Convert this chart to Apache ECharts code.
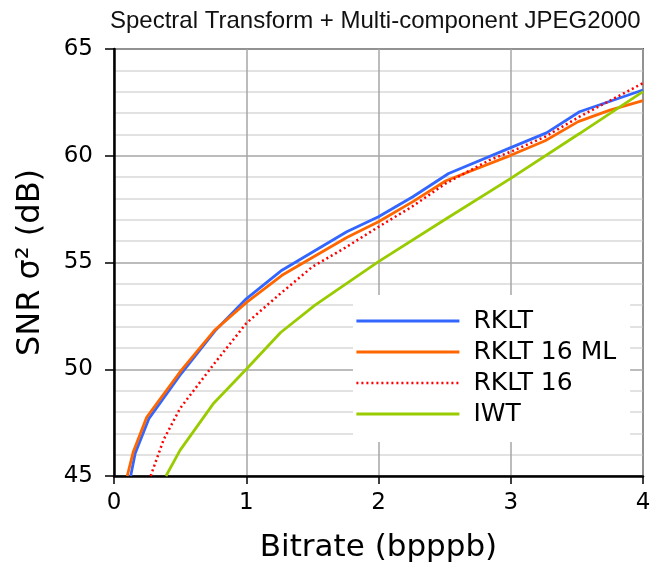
<!DOCTYPE html>
<html lang="en">
<head>
    <meta charset="UTF-8">
    <title>Spectral Transform + Multi-component JPEG2000</title>
</head>
<body style="margin:0">
<div class="main" style="width: 652px;height: 563px"></div>
</body>
<script src="https://cdn.jsdelivr.net/npm/echarts@6/dist/echarts.min.js"></script>
<script>
    // [bitrate, SNR]
    var rklt = [[0.126, 45.0], [0.16, 46.06], [0.265, 47.7], [0.51, 49.81], [0.77, 51.84], [1.0, 53.3],
        [1.27, 54.64], [1.76, 56.44], [2.0, 57.14], [2.26, 58.08], [2.53, 59.17], [3.0, 60.38],
        [3.27, 61.07], [3.52, 62.06], [4.0, 63.08]];
    var rklt16ml = [[0.10, 45.0], [0.146, 46.14], [0.247, 47.75], [0.51, 49.96], [0.76, 51.82], [1.0, 53.12],
        [1.27, 54.4], [1.76, 56.17], [2.0, 56.91], [2.26, 57.85], [2.51, 58.83], [3.0, 60.02],
        [3.26, 60.7], [3.51, 61.6], [3.75, 62.14], [4.0, 62.58]];
    var rklt16 = [[0.277, 45.0], [0.375, 46.7], [0.5, 48.17], [0.75, 50.2], [1.0, 52.15], [1.25, 53.5],
        [1.5, 54.8], [1.75, 55.7], [2.0, 56.67], [2.25, 57.6], [2.51, 58.71], [2.84, 59.8],
        [3.0, 60.19], [3.26, 60.89], [3.52, 61.83], [4.0, 63.4]];
    var iwt = [[0.393, 45.0], [0.499, 46.2], [0.75, 48.38], [1.0, 50.0], [1.26, 51.72], [1.52, 53.0],
        [2.0, 55.04], [2.5, 57.0], [3.0, 58.94], [3.52, 61.04], [4.0, 63.0]];

    var seriesNames = ['RKLT', 'RKLT 16 ML', 'RKLT 16', 'IWT'];
    var seriesData = [rklt, rklt16ml, rklt16, iwt];
    var seriesColors = ['#3366ff', '#ff6600', '#ff0000', '#99cc00'];
    var seriesDash = ['solid', 'solid', [2, 3], 'solid'];

    var xTicks = {min: 0, max: 4, interval: 1};
    var yTicks = {min: 45, max: 65, interval: 5};

    var main = document.querySelector(".main");
    var mainEcharts = echarts.init(main);

    var font = 'DejaVu Sans';

    var option = {
        animation: false,
        backgroundColor: '#fff',
        title: {
            text: 'Spectral Transform + Multi-component JPEG2000',
            left: 105,
            top: 4,
            textStyle: {fontFamily: 'Liberation Sans', fontSize: 24, fontWeight: 'normal', color: '#111'}
        },
        grid: {
            left: 114, right: 9, top: 49, bottom: 87,
            outerBoundsMode: 'none',
            show: true, borderColor: '#5a5a5a', borderWidth: 2
        },
        legend: {
            data: seriesNames,
            orient: 'vertical',
            left: 353,
            top: 295,
            padding: [13, 14, 15, 2],
            backgroundColor: '#fff',
            itemWidth: 103,
            itemHeight: 2,
            itemGap: 5,
            // hide the symbol ECharts puts in the middle of line icons
            itemStyle: {opacity: 0},
            lineStyle: {width: 'inherit'},
            textStyle: {fontFamily: font, fontSize: 25, color: '#000', lineHeight: 26, padding: [0, 0, 0, 9]}
        },
        xAxis: {
            type: 'value',
            min: xTicks.min, max: xTicks.max, interval: xTicks.interval,
            name: 'Bitrate (bpppb)',
            nameLocation: 'middle',
            nameGap: 56,
            nameTextStyle: {fontFamily: font, fontSize: 31, color: '#000'},
            axisLine: {lineStyle: {color: '#000', width: 2.5}},
            axisTick: {show: true, length: 8, lineStyle: {color: '#000', width: 1.5}},
            axisLabel: {margin: 16, fontFamily: font, fontSize: 23, color: '#000'},
            splitLine: {show: true, lineStyle: {color: '#a6a6a6', width: 1.5}}
        },
        yAxis: {
            type: 'value',
            min: yTicks.min, max: yTicks.max, interval: yTicks.interval,
            name: 'SNR σ² (dB)',
            nameLocation: 'middle',
            nameRotate: 90,
            nameGap: 67,
            nameTextStyle: {fontFamily: font, fontSize: 32, color: '#000'},
            axisLine: {show: true, lineStyle: {color: '#000', width: 2.5}},
            axisTick: {show: true, length: 9, lineStyle: {color: '#000', width: 1.5}},
            axisLabel: {margin: 21, fontFamily: font, fontSize: 23, color: '#000'},
            splitLine: {show: true, lineStyle: {color: '#a6a6a6', width: 1.5}},
            minorTick: {show: false, splitNumber: 5},
            minorSplitLine: {show: true, lineStyle: {color: '#d9d9d9', width: 1.5}}
        },
        series: seriesNames.map(function (name, i) {
            return {
                name: name,
                type: 'line',
                symbol: 'none',
                data: seriesData[i],
                lineStyle: {color: seriesColors[i], width: i === 2 ? 2.5 : 2.8, type: seriesDash[i]},
                itemStyle: {color: seriesColors[i]}
            };
        })
    };
    mainEcharts.setOption(option);
</script>
</html>
